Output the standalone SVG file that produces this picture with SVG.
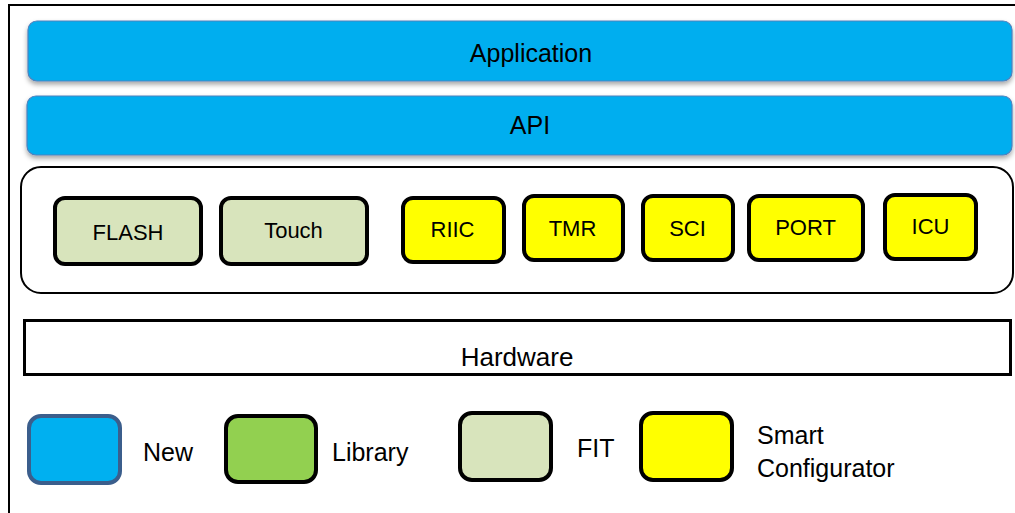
<svg xmlns="http://www.w3.org/2000/svg" width="1015" height="513" viewBox="0 0 1015 513">
<style>
text{font-family:"Liberation Sans",Arial,sans-serif;fill:#000}
.bar{fill:#00AEEF;stroke:#4F81BD;stroke-width:1.2}
.fit{fill:#D8E4BC;stroke:#000;stroke-width:4}
.sc{fill:#FFFF00;stroke:#000;stroke-width:4}
.lbl{font-size:22px;text-anchor:middle}
.big{font-size:25px;text-anchor:middle}
.leg{font-size:25px}
</style>
<defs>
<filter id="sh" x="-5%" y="-30%" width="110%" height="170%">
<feDropShadow dx="0" dy="3" stdDeviation="2.5" flood-color="#000" flood-opacity="0.35"/>
</filter>
</defs>
<rect x="0" y="0" width="1015" height="513" fill="#fff"/>
<path d="M9,520 V5 H1020" fill="none" stroke="#000" stroke-width="2"/>
<g id="application">
<rect class="bar" x="28" y="21" width="984" height="60" rx="9" filter="url(#sh)"/>
<text class="big" x="531" y="62">Application</text>
</g>
<g id="api">
<rect class="bar" x="27" y="96" width="985" height="59" rx="9" filter="url(#sh)"/>
<text class="big" x="530" y="134">API</text>
</g>
<g id="container">
<rect x="21" y="167" width="992" height="126" rx="20" fill="#fff" stroke="#000" stroke-width="2"/>
</g>
<g id="flash">
<rect class="fit" x="55" y="198" width="146" height="66" rx="10"/>
<text class="lbl" x="128" y="240">FLASH</text>
</g>
<g id="touch">
<rect class="fit" x="221" y="198" width="146" height="66" rx="10"/>
<text class="lbl" x="293.5" y="238">Touch</text>
</g>
<g id="riic">
<rect class="sc" x="403" y="198" width="101" height="64" rx="10"/>
<text class="lbl" x="452.5" y="237">RIIC</text>
</g>
<g id="tmr">
<rect class="sc" x="524" y="196" width="99" height="64" rx="10"/>
<text class="lbl" x="572.5" y="236">TMR</text>
</g>
<g id="sci">
<rect class="sc" x="643" y="196" width="90" height="64" rx="10"/>
<text class="lbl" x="687.5" y="236">SCI</text>
</g>
<g id="port">
<rect class="sc" x="749" y="196" width="114" height="64" rx="10"/>
<text class="lbl" x="805.5" y="235">PORT</text>
</g>
<g id="icu">
<rect class="sc" x="885" y="195" width="91" height="64" rx="10"/>
<text class="lbl" x="930.5" y="234">ICU</text>
</g>
<g id="hardware">
<rect x="24.5" y="320.5" width="986" height="54" fill="#fff" stroke="#000" stroke-width="3"/>
<text class="big" x="517" y="366" style="font-size:26px">Hardware</text>
</g>
<g id="legend">
<rect x="29" y="416" width="91" height="67" rx="12" fill="#00B0F0" stroke="#3B5E8C" stroke-width="4"/>
<text class="leg" x="143" y="461">New</text>
<rect x="226" y="416" width="90" height="66" rx="12" fill="#92D050" stroke="#000" stroke-width="4"/>
<text class="leg" x="332" y="461">Library</text>
<rect x="460" y="413" width="91" height="67" rx="12" fill="#D8E4BC" stroke="#000" stroke-width="4"/>
<text class="leg" x="577" y="457">FIT</text>
<rect x="641" y="413" width="91" height="67" rx="12" fill="#FFFF00" stroke="#000" stroke-width="4"/>
<text class="leg" x="757" y="444">Smart</text>
<text class="leg" x="757" y="477">Configurator</text>
</g>
<g id="connectors"></g>
</svg>
